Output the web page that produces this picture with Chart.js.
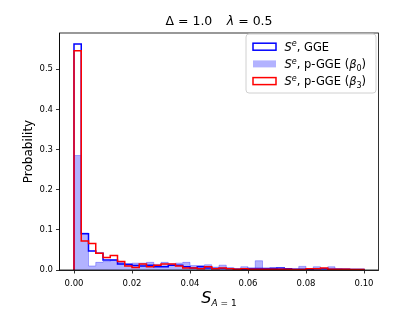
<!DOCTYPE html>
<html>
<head>
<meta charset="utf-8">
<script src="https://cdn.jsdelivr.net/npm/chart.js@4.4.0/dist/chart.umd.min.js"></script>
<style>
  body { margin: 0; background: #fff; }
  #wrap { width: 399px; height: 319px; }
</style>
</head>
<body>
<div id="wrap"><canvas id="hist" width="399" height="319"></canvas></div>
<script>
// histogram of S_{A=1}, 40 bins of width 0.0025 starting at 0
const binStart = 0;
const binWidth = 0.0025;

const gge = [0.5625, 0.090, 0.047, 0.042, 0.025, 0.025, 0.015, 0.014, 0.011, 0.010,
  0.012, 0.008, 0.008, 0.012, 0.012, 0.008, 0.005, 0.008, 0.005, 0.004,
  0.004, 0.004, 0.002, 0.002, 0.004, 0.004, 0.004, 0.004, 0.005, 0.003,
  0.002, 0.002, 0.002, 0.003, 0.003, 0.002, 0.002, 0.002, 0.001, 0.001];

const pggeB0 = [0.285, 0.092, 0.010, 0.019, 0.021, 0.025, 0.019, 0.016, 0.017, 0.017,
  0.019, 0.014, 0.019, 0.015, 0.017, 0.019, 0.011, 0.011, 0.013, 0.007,
  0.012, 0.005, 0.003, 0.008, 0.004, 0.023, 0.003, 0.006, 0.004, 0.002,
  0.002, 0.009, 0.003, 0.008, 0.003, 0.008, 0.003, 0.002, 0.002, 0.002];

const pggeB3 = [0.546, 0.072, 0.066, 0.042, 0.031, 0.036, 0.021, 0.010, 0.006, 0.015,
  0.008, 0.012, 0.015, 0.015, 0.010, 0.005, 0.005, 0.003, 0.008, 0.003,
  0.005, 0.003, 0.002, 0.003, 0.002, 0.002, 0.002, 0.002, 0.002, 0.002,
  0.001, 0.001, 0.003, 0.003, 0.005, 0.002, 0.002, 0.002, 0.001, 0.001];

const xTicks = [0.00, 0.02, 0.04, 0.06, 0.08, 0.10];
const yTicks = [0.0, 0.1, 0.2, 0.3, 0.4, 0.5];

const F = '"DejaVu Sans"';

// outline of a histogram as stepped points at the bin edges
const stepPoints = (vals) => {
  const pts = [{ x: binStart, y: 0 }];
  vals.forEach((v, i) => pts.push({ x: binStart + i * binWidth, y: v }));
  pts.push({ x: binStart + vals.length * binWidth, y: 0 });
  return pts;
};

const drawRuns = (ctx, x, y, parts, draw = true) => {
  parts.forEach((p) => {
    ctx.font = p.f;
    if (draw) ctx.fillText(p.t, x, y + (p.dy || 0));
    x += ctx.measureText(p.t).width + (p.gap || 0);
  });
  return x;
};

const legendItems = [
  { name: ', GGE', beta: null, kind: 'blue' },
  { name: ', p-GGE (', beta: '0', kind: 'fill' },
  { name: ', p-GGE (', beta: '3', kind: 'red' },
];

const decor = {
  id: 'decor',
  afterDraw(chart) {
    const ctx = chart.ctx;
    const a = chart.chartArea;
    ctx.save();
    ctx.strokeStyle = '#000';
    ctx.lineWidth = 0.8;
    ctx.strokeRect(a.left, a.top, a.right - a.left, a.bottom - a.top);

    ctx.fillStyle = '#000';
    ctx.textBaseline = 'alphabetic';
    ctx.textAlign = 'left';

    // title
    const t1 = [{ t: 'Δ = 1.0', f: `12.5px ${F}`, gap: 14.5 }, { t: 'λ', f: `italic 12.5px ${F}` }, { t: ' = 0.5', f: `12.5px ${F}` }];
    const tw = drawRuns(ctx, 0, 0, t1, false);
    const cx = (a.left + a.right) / 2;
    drawRuns(ctx, cx - tw / 2, 25, t1);

    // x label
    const xl = [{ t: 'S', f: `italic 16px ${F}` }, { t: 'A', f: `italic 9px ${F}`, dy: 3 }, { t: ' = 1', f: `9px ${F}`, dy: 3 }];
    const xw = drawRuns(ctx, 0, 0, xl, false);
    drawRuns(ctx, cx - xw / 2, 303, xl);

    // y label
    ctx.save();
    ctx.translate(32, (a.top + a.bottom) / 2);
    ctx.rotate(-Math.PI / 2);
    ctx.font = `12px ${F}`;
    ctx.textAlign = 'center';
    ctx.fillText('Probability', 0, 0);
    ctx.restore();

    // legend
    const lx = 246, ly = 34, lw = 130, lh = 59, r = 3;
    ctx.beginPath();
    ctx.moveTo(lx + r, ly);
    ctx.arcTo(lx + lw, ly, lx + lw, ly + lh, r);
    ctx.arcTo(lx + lw, ly + lh, lx, ly + lh, r);
    ctx.arcTo(lx, ly + lh, lx, ly, r);
    ctx.arcTo(lx, ly, lx + lw, ly, r);
    ctx.closePath();
    ctx.fillStyle = 'rgba(255,255,255,0.8)';
    ctx.fill();
    ctx.strokeStyle = '#d0d0d0';
    ctx.lineWidth = 1;
    ctx.stroke();

    legendItems.forEach((it, i) => {
      const rowY = 46.7 + i * 17.2;
      const hx = 253, hw = 23, hh = 7;
      if (it.kind === 'fill') {
        ctx.fillStyle = 'rgba(0,0,255,0.3)';
        ctx.fillRect(hx, rowY - hh / 2, hw, hh);
      } else {
        ctx.strokeStyle = it.kind === 'blue' ? '#0000ff' : '#ff0000';
        ctx.lineWidth = 1.5;
        ctx.strokeRect(hx, rowY - hh / 2, hw, hh);
      }
      ctx.fillStyle = '#000';
      const parts = [{ t: 'S', f: `italic 11.5px ${F}` }, { t: 'e', f: `italic 8px ${F}`, dy: -4.5 }, { t: it.name, f: `11.5px ${F}` }];
      if (it.beta) {
        parts.push({ t: 'β', f: `italic 11.5px ${F}` }, { t: it.beta, f: `8px ${F}`, dy: 2.5 }, { t: ')', f: `11.5px ${F}` });
      }
      drawRuns(ctx, 284.5, rowY + 4.1, parts);
    });
    ctx.restore();
  },
};

new Chart(document.getElementById('hist'), {
  type: 'line',
  data: {
    datasets: [
      {
        label: 'GGE',
        data: stepPoints(gge),
        stepped: 'before',
        borderColor: '#0000ff',
        borderWidth: 1.5,
        pointRadius: 0,
        fill: false,
        order: 1,
      },
      {
        label: 'p-GGE (β0)',
        data: stepPoints(pggeB0),
        stepped: 'before',
        borderColor: 'rgba(0,0,255,0.3)',
        backgroundColor: 'rgba(0,0,255,0.3)',
        borderWidth: 1,
        pointRadius: 0,
        fill: 'origin',
        order: 2,
      },
      {
        label: 'p-GGE (β3)',
        data: stepPoints(pggeB3),
        stepped: 'before',
        borderColor: '#ff0000',
        borderWidth: 1.5,
        pointRadius: 0,
        fill: false,
        order: 0,
      },
    ],
  },
  options: {
    responsive: false,
    animation: false,
    devicePixelRatio: 1,
    layout: { padding: { top: 33, right: 20.5, left: 0, bottom: 0 } },
    plugins: {
      legend: { display: false },
      tooltip: { enabled: false },
    },
    scales: {
      x: {
        type: 'linear',
        min: -0.005,
        max: 0.105,
        afterBuildTicks: (axis) => { axis.ticks = xTicks.map((v) => ({ value: v })); },
        afterFit: (axis) => { axis.height = 49; },
        ticks: {
          callback: (v) => Number(v).toFixed(2),
          font: { family: 'DejaVu Sans', size: 8.5 },
          color: '#000',
          padding: 5,
          maxRotation: 0,
          autoSkip: false,
        },
        grid: { drawOnChartArea: false, drawTicks: true, tickLength: 3.5, color: '#000', lineWidth: 0.8 },
        border: { display: true, color: '#000', width: 0.8 },
      },
      y: {
        min: 0,
        max: 0.59,
        afterBuildTicks: (axis) => { axis.ticks = yTicks.map((v) => ({ value: v })); },
        afterFit: (axis) => { axis.width = 59.5; },
        ticks: {
          callback: (v) => Number(v).toFixed(1),
          font: { family: 'DejaVu Sans', size: 8.5 },
          color: '#000',
          padding: 3,
          autoSkip: false,
        },
        grid: { drawOnChartArea: false, drawTicks: true, tickLength: 3.5, color: '#000', lineWidth: 0.8 },
        border: { display: true, color: '#000', width: 0.8 },
      },
    },
  },
  plugins: [decor],
});
</script>
</body>
</html>
